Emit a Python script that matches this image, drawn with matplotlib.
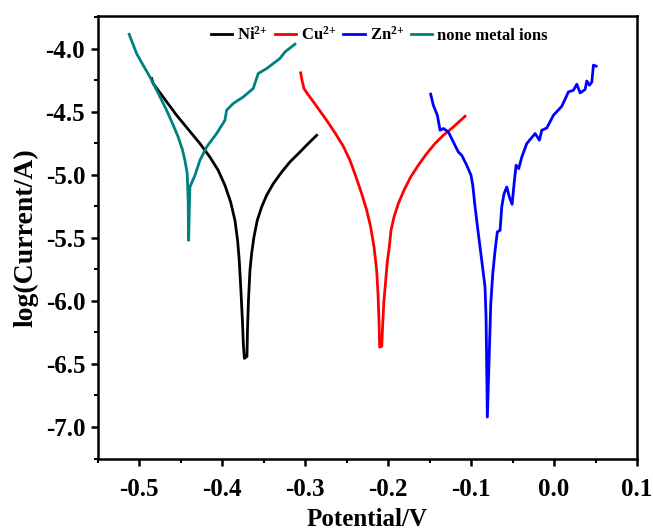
import matplotlib
matplotlib.use("Agg")
import matplotlib.pyplot as plt
from matplotlib.ticker import MultipleLocator, FormatStrFormatter

plt.rcParams['font.family'] = ['Liberation Serif', 'DejaVu Serif']
plt.rcParams['font.weight'] = 'bold'
plt.rcParams['mathtext.fontset'] = 'custom'
plt.rcParams['mathtext.rm'] = 'Liberation Serif:bold'
plt.rcParams['mathtext.bf'] = 'Liberation Serif:bold'
plt.rcParams['mathtext.default'] = 'bf'

# Ni2+
ni_x = [-0.4850, -0.4831, -0.4549, -0.4268, -0.4148, -0.4048, -0.3967, -0.3898, -0.3846,
        -0.3814, -0.3794, -0.3774, -0.3756, -0.3744, -0.3732,
        -0.3701, -0.3695, -0.3683, -0.3665, -0.3645, -0.3617, -0.3577, -0.3524, -0.3464,
        -0.3384, -0.3283, -0.3183, -0.3062, -0.2962, -0.2861]
ni_y = [-4.238, -4.278, -4.529, -4.753, -4.860, -4.965, -5.084, -5.216, -5.362,
        -5.520, -5.679, -5.917, -6.155, -6.353, -6.456,
        -6.440, -6.234, -5.996, -5.758, -5.626, -5.494, -5.362, -5.256, -5.163,
        -5.071, -4.979, -4.899, -4.820, -4.753, -4.688]

# Cu2+
cu_x = [-0.3054, -0.3038, -0.3014, -0.2974, -0.2921, -0.2842, -0.2741, -0.2640, -0.2540,
        -0.2460, -0.2387, -0.2319, -0.2258, -0.2210, -0.2170, -0.2138, -0.2122, -0.2110,
        -0.2102, -0.2077, -0.2065, -0.2050, -0.2029, -0.2010, -0.1986, -0.1965, -0.1929,
        -0.1877, -0.1809, -0.1728, -0.1636, -0.1535, -0.1435, -0.1335, -0.1214, -0.1073]
cu_y = [-4.193, -4.251, -4.317, -4.357, -4.404, -4.476, -4.569, -4.669, -4.775,
        -4.886, -5.018, -5.150, -5.282, -5.415, -5.573, -5.758, -5.943, -6.155,
        -6.366, -6.361, -6.181, -5.996, -5.837, -5.692, -5.573, -5.441, -5.335,
        -5.229, -5.124, -5.018, -4.925, -4.833, -4.753, -4.688, -4.622, -4.537]

# Zn2+
zn_x = [-0.1487, -0.1455, -0.1407, -0.1374, -0.1335, -0.1274, -0.1214, -0.1154, -0.1113,
        -0.1053, -0.1001, -0.0980, -0.0952, -0.0913, -0.0872, -0.0832, -0.0820, -0.0804,
        -0.0780, -0.0763, -0.0739, -0.0711, -0.0684, -0.0651, -0.0631, -0.0603, -0.0570,
        -0.0539, -0.0506, -0.0482, -0.0458, -0.0426, -0.0389, -0.0329, -0.0228, -0.0177,
        -0.0148, -0.0088, -0.0008, 0.0093, 0.0173, 0.0233, 0.0274, 0.0314, 0.0374,
        0.0394, 0.0426, 0.0455, 0.0474, 0.0507]
zn_y = [-4.362, -4.450, -4.529, -4.648, -4.634, -4.661, -4.741, -4.820, -4.846,
        -4.925, -5.005, -5.084, -5.256, -5.467, -5.679, -5.891, -6.128, -6.921,
        -6.393, -6.022, -5.784, -5.600, -5.454, -5.441, -5.256, -5.150, -5.098,
        -5.177, -5.235, -5.071, -4.925, -4.952, -4.860, -4.753, -4.674, -4.727,
        -4.648, -4.630, -4.529, -4.458, -4.344, -4.331, -4.283, -4.352, -4.325,
        -4.257, -4.291, -4.265, -4.132, -4.140]

# none metal ions
nm_x = [-0.5121, -0.5075, -0.5031, -0.4950, -0.4871, -0.4770, -0.4670, -0.4600, -0.4530,
        -0.4480, -0.4449, -0.4421, -0.4410, -0.4404,
        -0.4389, -0.4328, -0.4268, -0.4187, -0.4067, -0.3967, -0.3946, -0.3867,
        -0.3746, -0.3626, -0.3565, -0.3464, -0.3304, -0.3243, -0.3123]
nm_y = [-3.887, -3.965, -4.040, -4.135, -4.225, -4.355, -4.489, -4.592, -4.701,
        -4.800, -4.886, -4.991, -5.200, -5.520,
        -5.098, -5.005, -4.886, -4.780, -4.674, -4.569, -4.489, -4.436,
        -4.384, -4.317, -4.198, -4.159, -4.079, -4.027, -3.966]

fig = plt.figure(figsize=(6.53, 5.32), dpi=100)
ax = fig.add_axes([0.1496, 0.138, 0.826, 0.8325])

lw = 2.0
ax.plot(ni_x, ni_y, color='black', lw=lw, label='Ni$^{2{+}}$')
ax.plot(cu_x, cu_y, color='#ff0000', lw=lw, label='Cu$^{2{+}}$')
ax.plot(zn_x, zn_y, color='#0000ff', lw=lw, label='Zn$^{2{+}}$')
ax.plot(nm_x, nm_y, color='#00807f', lw=lw, label='none metal ions')

ax.set_xlim(-0.55, 0.1)
ax.set_ylim(-7.25, -3.74)
ax.xaxis.set_major_locator(MultipleLocator(0.1))
ax.xaxis.set_minor_locator(MultipleLocator(0.05))
ax.yaxis.set_major_locator(MultipleLocator(0.5))
ax.yaxis.set_minor_locator(MultipleLocator(0.25))
ax.xaxis.set_major_formatter(FormatStrFormatter('%.1f'))
ax.yaxis.set_major_formatter(FormatStrFormatter('%.1f'))

for s in ax.spines.values():
    s.set_linewidth(1.8)
ax.tick_params(which='major', direction='out', length=5, width=1.8, labelsize=18)
ax.tick_params(axis='x', which='major', pad=9)
ax.tick_params(axis='y', which='major', pad=4)
ax.tick_params(which='minor', direction='out', length=3, width=1.5)
for lab in ax.get_xticklabels() + ax.get_yticklabels():
    lab.set_fontweight('bold')

ax.set_xlabel('Potential/V', fontsize=18, fontweight='bold', labelpad=5)
ax.set_ylabel('log(Current/A)', fontsize=20, fontweight='bold', labelpad=5)

leg = ax.legend(loc='center', bbox_to_anchor=(0.522, 0.956), ncol=4, frameon=False,
                handlelength=1.3, handletextpad=0.3, columnspacing=0.4,
                prop={'family': 'Liberation Serif', 'weight': 'bold', 'size': 12})

fig.savefig('out.png', dpi=100)
